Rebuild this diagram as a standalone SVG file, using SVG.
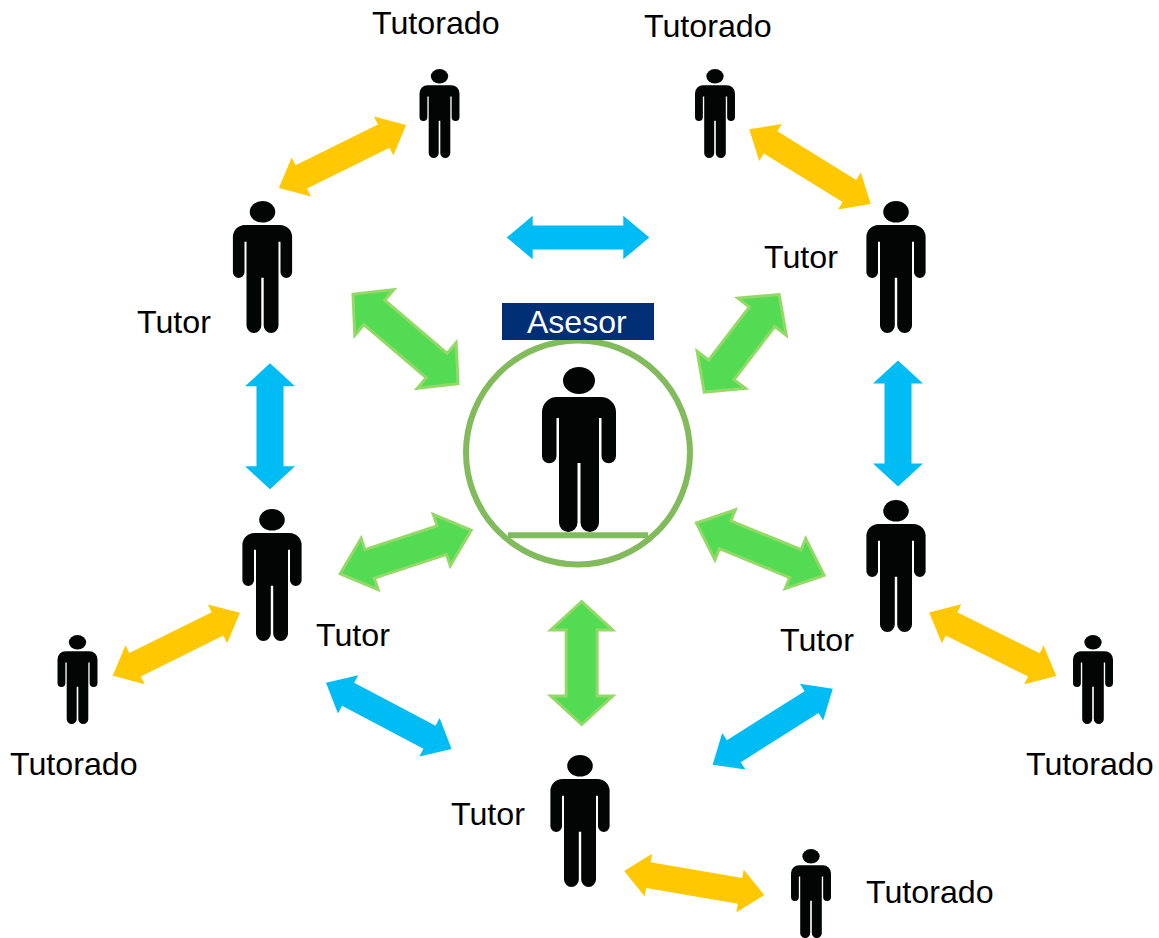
<svg xmlns="http://www.w3.org/2000/svg" width="1159" height="938" viewBox="0 0 1159 938">
<style>
text{font-family:"Liberation Sans",Arial,sans-serif;font-size:32.2px;fill:#000}
.y{fill:#ffc800}
.b{fill:#00bcf5}
.g{fill:#53db53;stroke:#92d966;stroke-width:3;stroke-linejoin:miter}
</style>
<defs>
<g id="person" fill="#030504">
<ellipse cx="0" cy="13.5" rx="16" ry="13.5"/>
<path d="M-22,30H22A15,15 0 0 1 37,45V89A7.25,7.25 0 0 1 22.5,89V51H20V155.5A9.25,9.5 0 0 1 1.5,155.5V96H-1.5V155.5A9.25,9.5 0 0 1 -20,155.5V51H-22.5V89A7.25,7.25 0 0 1 -37,89V45A15,15 0 0 1 -22,30Z"/>
</g>
</defs>
<rect width="1159" height="938" fill="#fff"/>
<g id="connectors">
<path class="y" transform="translate(342.5,156.5) rotate(-26.4)" d="M-71,0L-46,-21.7V-13H46V-21.7L71,0L46,21.7V13H-46V21.7Z"/>
<path class="y" transform="translate(810,166.7) rotate(31.6)" d="M-71.3,0L-46.3,-21.7V-13H46.3V-21.7L71.3,0L46.3,21.7V13H-46.3V21.7Z"/>
<path class="y" transform="translate(176.3,644.3) rotate(-26.4)" d="M-71,0L-46,-21.7V-13H46V-21.7L71,0L46,21.7V13H-46V21.7Z"/>
<path class="y" transform="translate(992.7,644.3) rotate(26.5)" d="M-71,0L-46,-21.7V-13H46V-21.7L71,0L46,21.7V13H-46V21.7Z"/>
<path class="y" transform="translate(694.2,883) rotate(9.75)" d="M-71,0L-46.5,-21.7V-13H46.5V-21.7L71,0L46.5,21.7V13H-46.5V21.7Z"/>
<path class="b" transform="translate(578,237.5)" d="M-71.3,0L-45.3,-21.8V-12H45.3V-21.8L71.3,0L45.3,21.8V12H-45.3V21.8Z"/>
<path class="b" transform="translate(270,426.3) rotate(90)" d="M-63,0L-40,-25V-13.5H40V-25L63,0L40,25V13.5H-40V25Z"/>
<path class="b" transform="translate(898,423.5) rotate(90)" d="M-63,0L-40,-25V-13.5H40V-25L63,0L40,25V13.5H-40V25Z"/>
<path class="b" transform="translate(388.8,715.8) rotate(27.8)" d="M-71,0L-46,-21.7V-13H46V-21.7L71,0L46,21.7V13H-46V21.7Z"/>
<path class="b" transform="translate(772.7,726.7) rotate(-32.3)" d="M-71,0L-46,-21.7V-13H46V-21.7L71,0L46,21.7V13H-46V21.7Z"/>
<path class="g" transform="translate(405.5,339) rotate(40.4)" d="M-69,0L-41,-30V-16H41V-30L69,0L41,30V16H-41V30Z"/>
<path class="g" transform="translate(741.7,343.3) rotate(-52.5)" d="M-61.5,0L-33.5,-30.5V-16H33.5V-30.5L61.5,0L33.5,30.5V16H-33.5V30.5Z"/>
<path class="g" transform="translate(405.7,552) rotate(-18.3)" d="M-69,0L-38,-27V-15H38V-27L69,0L38,27V15H-38V27Z"/>
<path class="g" transform="translate(760.3,549.2) rotate(22.3)" d="M-69,0L-38,-27V-15H38V-27L69,0L38,27V15H-38V27Z"/>
<path class="g" transform="translate(581.7,663) rotate(90)" d="M-61.5,0L-33,-31V-15.5H33V-31L61.5,0L33,31V15.5H-33V31Z"/>
</g>
<g id="asesor">
<circle cx="578" cy="452.5" r="112" fill="none" stroke="#82bb5c" stroke-width="6"/>
<line x1="508" y1="535.3" x2="648" y2="535.3" stroke="#82bb5c" stroke-width="6"/>
<use href="#person" transform="translate(579,367)"/>
<rect x="502" y="303" width="152" height="37" fill="#002f75"/>
<text x="527" y="333" style="fill:#fff;font-size:32px">Asesor</text>
</g>
<g id="tutor-1"><use href="#person" transform="translate(262.5,201) scale(.8)"/><text x="137" y="333">Tutor</text></g>
<g id="tutor-2"><use href="#person" transform="translate(896,201) scale(.8)"/><text x="764" y="268">Tutor</text></g>
<g id="tutor-3"><use href="#person" transform="translate(272,509) scale(.8)"/><text x="316" y="646">Tutor</text></g>
<g id="tutor-4"><use href="#person" transform="translate(896,500) scale(.8)"/><text x="780" y="651">Tutor</text></g>
<g id="tutor-5"><use href="#person" transform="translate(580,755) scale(.8)"/><text x="451" y="825">Tutor</text></g>
<g id="tutorado-1"><use href="#person" transform="translate(439.5,69) scale(.54)"/><text x="372" y="34">Tutorado</text></g>
<g id="tutorado-2"><use href="#person" transform="translate(715,69) scale(.54)"/><text x="644" y="37">Tutorado</text></g>
<g id="tutorado-3"><use href="#person" transform="translate(77.5,635) scale(.54)"/><text x="10" y="775">Tutorado</text></g>
<g id="tutorado-4"><use href="#person" transform="translate(1093,635) scale(.54)"/><text x="1026" y="775">Tutorado</text></g>
<g id="tutorado-5"><use href="#person" transform="translate(811,849) scale(.54)"/><text x="866" y="903">Tutorado</text></g>
</svg>
